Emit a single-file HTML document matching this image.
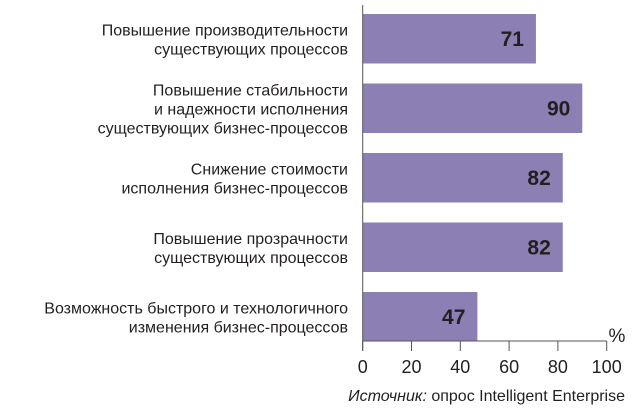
<!DOCTYPE html>
<html><head><meta charset="utf-8"><style>
body{margin:0;background:#fff;}
svg text{font-family:"Liberation Sans",sans-serif;}
</style></head><body>
<svg width="640" height="410" xmlns="http://www.w3.org/2000/svg">
<g id="bars"></g>
<g id="axis"></g>
<text x="617" y="342" font-size="19" fill="#231f20" text-anchor="middle">%</text>
<text x="625" y="401" font-size="16" fill="#231f20" text-anchor="end"><tspan font-style="italic">Источник:</tspan> опрос Intelligent Enterprise</text>
</svg>
<script>
const categories=[["Повышение производительности","существующих процессов"],["Повышение стабильности","и надежности исполнения","существующих бизнес-процессов"],["Снижение стоимости","исполнения бизнес-процессов"],["Повышение прозрачности","существующих процессов"],["Возможность быстрого и технологичного","изменения бизнес-процессов"]];
const values=[71,90,82,82,47];
const ticks=[0,20,40,60,80,100];
const NS="http://www.w3.org/2000/svg";
const x0=362.7, kx=2.44, y0=14, pitch=69.5, bh=49.5;
const X=v=>x0+v*kx;
const Y=i=>y0+i*pitch;
const bars=document.getElementById('bars'), axis=document.getElementById('axis');
function mk(t,a,p){const e=document.createElementNS(NS,t);for(const k in a)e.setAttribute(k,a[k]);p.appendChild(e);return e;}
values.forEach((v,i)=>{
  const r=mk('rect',{x:x0,y:Y(i),width:X(v)-x0,height:bh,fill:'#8b7fb3'},bars);
  
  
  const t=mk('text',{x:X(v)-12,y:Y(i)+bh/2+7,'font-size':21,'font-weight':'bold',fill:'#231f20','text-anchor':'end'},bars);
  t.textContent=v;
  
  
  const lines=categories[i], lh=19;
  const g=mk('text',{x:348,'font-size':16,fill:'#231f20','text-anchor':'end'},bars);
  
  
  lines.forEach((s,j)=>{const ts=mk('tspan',{x:348,y:Y(i)+bh/2+6+(j-(lines.length-1)/2)*lh},g);ts.textContent=s;});
});
const al=mk('line',{x1:x0,y1:5,x2:x0,y2:351,stroke:'#555','stroke-width':1},axis);

const bl=mk('line',{x1:x0,y1:341,x2:X(100),y2:341,stroke:'#555','stroke-width':1},axis);

ticks.forEach(t=>{
  const l=mk('line',{x1:X(t),y1:341,x2:X(t),y2:351,stroke:'#555','stroke-width':1},axis);
  
  const tx=mk('text',{x:X(t),y:373,'font-size':18,fill:'#231f20','text-anchor':'middle'},axis);
  tx.textContent=t;
  
});
</script>
</body></html>
